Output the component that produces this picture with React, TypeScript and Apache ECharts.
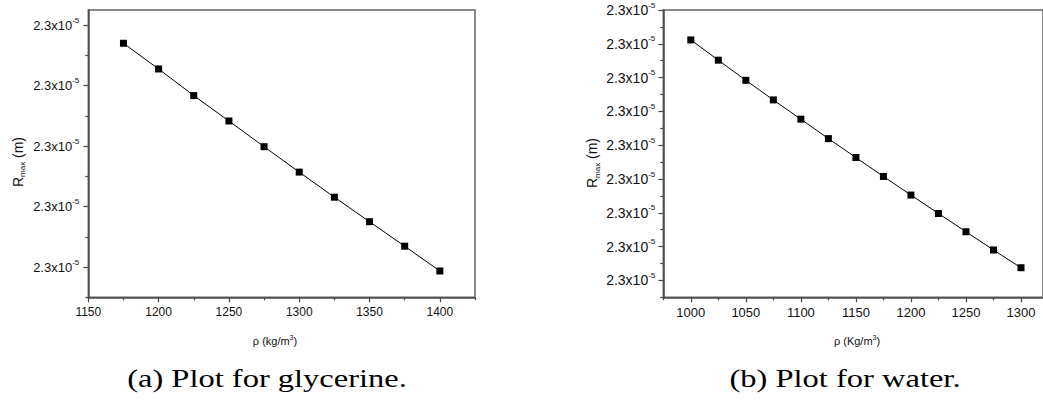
import React, { useEffect, useRef } from "react";
import * as echarts from "echarts";

// Density (kg/m^3) and maximum bubble radius (in units of 1e-5 m)
const glycerineRho = [1175, 1200, 1225, 1250, 1275, 1300, 1325, 1350, 1375, 1400];
const glycerineR = [2.30094, 2.300855, 2.300767, 2.300683, 2.300598, 2.300514, 2.300431, 2.30035, 2.300269, 2.300187];

const waterRho = [1000, 1025, 1050, 1075, 1100, 1125, 1150, 1175, 1200, 1225, 1250, 1275, 1300];
const waterR = [2.301423, 2.301303, 2.301184, 2.301068, 2.300954, 2.300839, 2.300727, 2.300615, 2.300505, 2.300396, 2.300288, 2.30018, 2.300075];

// Tick positions
const glycerineRhoTicks = [1150, 1200, 1250, 1300, 1350, 1400];
const glycerineRhoMinor = [1175, 1225, 1275, 1325, 1375, 1425];
const glycerineRTicks = [2.3002, 2.3004, 2.3006, 2.3008, 2.301];
const glycerineRMinor = [2.3001, 2.3003, 2.3005, 2.3007, 2.3009];

const waterRhoTicks = [1000, 1050, 1100, 1150, 1200, 1250, 1300];
const waterRhoMinor = [975, 1025, 1075, 1125, 1175, 1225, 1275];
const waterRTicks = [2.3, 2.3002, 2.3004, 2.3006, 2.3008, 2.301, 2.3012, 2.3014, 2.3016];
const waterRMinor = [2.2999, 2.3001, 2.3003, 2.3005, 2.3007, 2.3009, 2.3011, 2.3013, 2.3015];

const captions = ["(a) Plot for glycerine.", "(b) Plot for water."];

const AXIS = "#4a4a4a";
const SANS = "Liberation Sans";
const SERIF = "Liberation Serif";

const panels = [
  {
    rect: { left: 88.3, top: 10, width: 386.7, height: 287.3 },
    x: { min: 1150, max: 1425, ticks: glycerineRhoTicks, minor: glycerineRhoMinor, font: 12 },
    y: { min: 2.3001, max: 2.30105, ticks: glycerineRTicks, minor: glycerineRMinor, font: 13, margin: 9 },
    rho: glycerineRho,
    r: glycerineR,
    xName: "kg/m",
    xNamePos: [275, 341],
    yNamePos: [17.5, 162],
    caption: captions[0],
    captionPos: [267, 378],
  },
  {
    rect: { left: 663.3, top: 10, width: 380.5, height: 287.3 },
    x: { min: 975, max: 1320, ticks: waterRhoTicks, minor: waterRhoMinor, font: 13 },
    y: { min: 2.2999, max: 2.3016, ticks: waterRTicks, minor: waterRMinor, font: 14, margin: 8 },
    rho: waterRho,
    r: waterR,
    xName: "Kg/m",
    xNamePos: [857, 341],
    yNamePos: [592, 163],
    caption: captions[1],
    captionPos: [845, 378],
  },
];

function buildOption() {
  const grid: any[] = [];
  const xAxis: any[] = [];
  const yAxis: any[] = [];
  const series: any[] = [];
  const graphic: any[] = [];

  panels.forEach((p, i) => {
    grid.push({
      ...p.rect,
      show: true,
      borderColor: "#666",
      borderWidth: 1.5,
      backgroundColor: "transparent",
    });
    xAxis.push({
      type: "value",
      gridIndex: i,
      min: p.x.min,
      max: p.x.max,
      axisLine: { show: true, lineStyle: { color: AXIS, width: 1.5 } },
      axisTick: { show: true, customValues: p.x.ticks, length: 5, lineStyle: { color: AXIS, width: 1.2 } },
      axisLabel: {
        customValues: p.x.ticks,
        color: "#111",
        fontFamily: SANS,
        fontSize: p.x.font,
        margin: 9,
        formatter: (v: number) => String(v),
      },
      splitLine: { show: false },
    });
    yAxis.push({
      type: "value",
      gridIndex: i,
      min: p.y.min,
      max: p.y.max,
      axisLine: { show: true, lineStyle: { color: AXIS, width: 1.5 } },
      axisTick: { show: true, customValues: p.y.ticks, length: 5, lineStyle: { color: AXIS, width: 1.2 } },
      axisLabel: {
        customValues: p.y.ticks,
        margin: p.y.margin,
        formatter: (v: number) => `{m|${v.toFixed(1)}x10}{s|-5}`,
        rich: {
          m: { fontFamily: SANS, fontSize: p.y.font, color: "#111", lineHeight: 18 },
          s: { fontFamily: SANS, fontSize: 8, color: "#111", lineHeight: 8, padding: [0, 0, 10, 0] },
        },
      },
      splitLine: { show: false },
    });
    series.push({
      type: "line",
      xAxisIndex: i,
      yAxisIndex: i,
      data: p.rho.map((x, k) => [x, p.r[k]]),
      symbol: "rect",
      symbolSize: 7,
      itemStyle: { color: "#000" },
      lineStyle: { color: "#000", width: 1 },
    });

    graphic.push({
      type: "text",
      x: p.xNamePos[0],
      y: p.xNamePos[1],
      style: {
        text: `{a|ρ (${p.xName}}{s|3}{a|)}`,
        align: "center",
        verticalAlign: "middle",
        rich: {
          a: { fontFamily: SANS, fontSize: 11, fill: "#111", lineHeight: 14 },
          s: { fontFamily: SANS, fontSize: 7, fill: "#111", lineHeight: 7, padding: [0, 0, 7, 0] },
        },
      },
    });
    graphic.push({
      type: "text",
      x: p.yNamePos[0],
      y: p.yNamePos[1],
      rotation: Math.PI / 2,
      style: {
        text: "{r|R}{s|max}{r| (m)}",
        align: "center",
        verticalAlign: "middle",
        rich: {
          r: { fontFamily: SANS, fontSize: 14, fill: "#111", lineHeight: 18 },
          s: { fontFamily: SANS, fontSize: 8, fill: "#111", lineHeight: 8, padding: [10, 0, 0, 0] },
        },
      },
    });
    graphic.push({
      type: "text",
      x: p.captionPos[0],
      y: p.captionPos[1],
      scaleX: 1.25,
      style: {
        text: p.caption,
        align: "center",
        verticalAlign: "middle",
        fontFamily: SERIF,
        fontSize: 26,
        fill: "#000",
      },
    });
  });

  // minor tick overlays
  panels.forEach((p, i) => {
    grid.push({ ...p.rect });
    const gi = panels.length + i;
    xAxis.push({
      type: "value",
      gridIndex: gi,
      min: p.x.min,
      max: p.x.max,
      axisLine: { show: false },
      axisTick: { show: true, customValues: p.x.minor, length: 3, lineStyle: { color: AXIS, width: 1.2 } },
      axisLabel: { show: false },
      splitLine: { show: false },
    });
    yAxis.push({
      type: "value",
      gridIndex: gi,
      min: p.y.min,
      max: p.y.max,
      axisLine: { show: false },
      axisTick: { show: true, customValues: p.y.minor, length: 3, lineStyle: { color: AXIS, width: 1.2 } },
      axisLabel: { show: false },
      splitLine: { show: false },
    });
  });

  return { animation: false, backgroundColor: "#fff", grid, xAxis, yAxis, series, graphic };
}

export default function App() {
  const ref = useRef<HTMLDivElement>(null);
  useEffect(() => {
    if (!ref.current) return;
    const chart = echarts.init(ref.current, undefined, { renderer: "svg" });
    chart.setOption(buildOption() as any);
    return () => chart.dispose();
  }, []);
  return (
    <div
      ref={ref}
      style={{ position: "absolute", left: 0, top: 0, width: 1043, height: 415, background: "#fff" }}
    />
  );
}
